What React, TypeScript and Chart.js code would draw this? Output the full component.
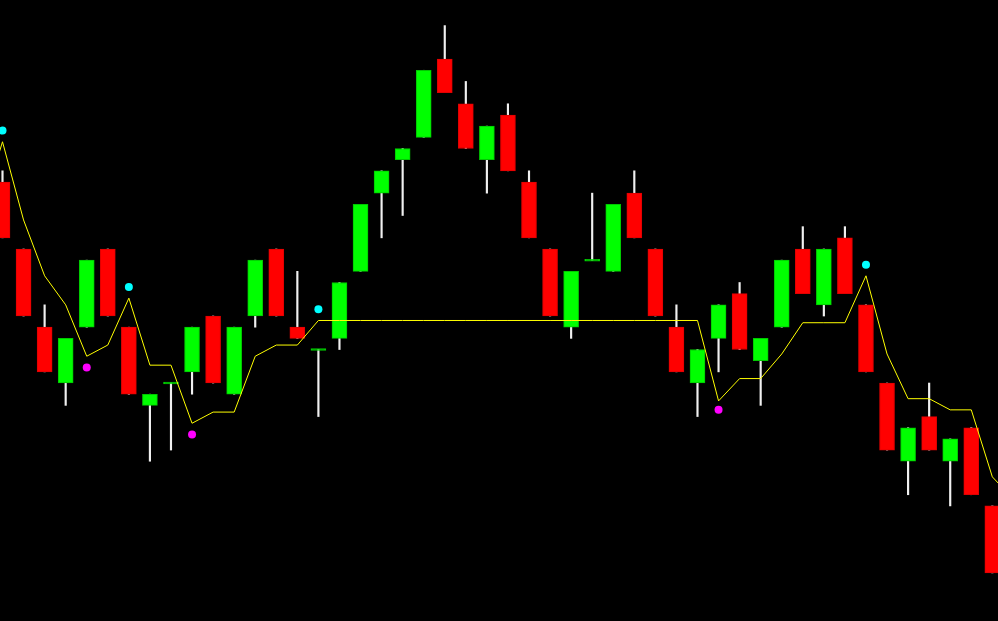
import React, { useEffect, useRef } from "react";
import { Chart, registerables } from "chart.js";

Chart.register(...registerables);

// Candle OHLC values (index 0..47, left to right)
const opens = [
  110.30, 110.00, 109.65, 109.40, 109.65, 110.00, 109.65, 109.30, 109.40, 109.45,
  109.70, 109.35, 109.70, 110.00, 109.65, 109.55, 109.60, 109.90, 110.25, 110.40,
  110.50, 110.85, 110.65, 110.40, 110.60, 110.30, 110.00, 109.65, 109.95, 109.90,
  110.25, 110.00, 109.65, 109.40, 109.60, 109.80, 109.50, 109.65, 110.00, 109.75,
  110.05, 109.75, 109.40, 109.05, 109.25, 109.05, 109.20, 108.85,
];
const highs = [
  110.35, 110.00, 109.75, 109.60, 109.95, 110.00, 109.65, 109.35, 109.40, 109.65,
  109.70, 109.65, 109.95, 110.00, 109.90, 109.55, 109.85, 110.20, 110.35, 110.45,
  110.80, 111.00, 110.75, 110.55, 110.65, 110.35, 110.00, 109.90, 110.25, 110.20,
  110.35, 110.00, 109.75, 109.55, 109.75, 109.85, 109.60, 109.95, 110.10, 110.00,
  110.10, 109.75, 109.40, 109.20, 109.40, 109.15, 109.20, 108.85,
];
const lows = [
  110.05, 109.70, 109.45, 109.30, 109.65, 109.70, 109.35, 109.05, 109.10, 109.35,
  109.40, 109.35, 109.65, 109.70, 109.60, 109.25, 109.55, 109.90, 110.05, 110.15,
  110.50, 110.70, 110.45, 110.25, 110.35, 110.05, 109.70, 109.60, 109.95, 109.90,
  110.05, 109.70, 109.45, 109.25, 109.45, 109.55, 109.30, 109.65, 109.80, 109.70,
  109.80, 109.45, 109.10, 108.90, 109.10, 108.85, 108.90, 108.55,
];
const closes = [
  110.05, 109.70, 109.45, 109.60, 109.95, 109.70, 109.35, 109.35, 109.40, 109.65,
  109.40, 109.65, 109.95, 109.70, 109.60, 109.55, 109.85, 110.20, 110.35, 110.45,
  110.80, 110.70, 110.45, 110.55, 110.35, 110.05, 109.70, 109.90, 109.95, 110.20,
  110.05, 109.70, 109.45, 109.55, 109.75, 109.55, 109.60, 109.95, 109.80, 110.00,
  109.80, 109.45, 109.10, 109.20, 109.10, 109.15, 108.90, 108.55,
];

// Trend (stop) line, starting one bar before the first visible candle
const trendStart = -1;
const trendLine = [
  110.17, 110.48, 110.13, 109.88, 109.75, 109.52, 109.57, 109.78, 109.48, 109.48,
  109.22, 109.27, 109.27, 109.52, 109.57, 109.57, 109.68, 109.68, 109.68, 109.68,
  109.68, 109.68, 109.68, 109.68, 109.68, 109.68, 109.68, 109.68, 109.68, 109.68,
  109.68, 109.68, 109.68, 109.68, 109.68, 109.32, 109.42, 109.42, 109.53, 109.67,
  109.67, 109.67, 109.88, 109.53, 109.33, 109.33, 109.28, 109.28, 108.98, 108.88,
];

// Signal dots
const upSignalIdx = [0, 6, 15, 41];
const upSignalVals = [110.53, 109.83, 109.73, 109.93];
const downSignalIdx = [4, 9, 34];
const downSignalVals = [109.47, 109.17, 109.28];

const X_MIN = -0.1187;
const X_MAX = 47.269;
const Y_MIN = 108.3348;
const Y_MAX = 111.1146;

export default function App() {
  const ref = useRef<HTMLCanvasElement | null>(null);

  useEffect(() => {
    document.body.style.margin = "0";
    document.body.style.background = "#000";
    const canvas = ref.current;
    if (!canvas) return;

    const isUp = opens.map((o, i) => closes[i] >= o);
    const bodies = opens.map((o, i) => {
      const c = closes[i];
      let lo = Math.min(o, c);
      let hi = Math.max(o, c);
      if (hi - lo < 0.001) {
        lo -= 0.004;
        hi += 0.004;
      }
      return { x: i, y: [lo, hi] };
    });
    const wicks = opens.map((_, i) => ({ x: i, y: [lows[i], highs[i]] }));

    const chart = new Chart(canvas, {
      type: "bar",
      data: {
        datasets: [
          {
            type: "scatter",
            label: "up",
            data: upSignalIdx.map((x, i) => ({ x, y: upSignalVals[i] })),
            pointRadius: 4,
            pointBackgroundColor: "#00FFFF",
            pointBorderWidth: 0,
            order: 0,
          } as any,
          {
            type: "scatter",
            label: "down",
            data: downSignalIdx.map((x, i) => ({ x, y: downSignalVals[i] })),
            pointRadius: 4,
            pointBackgroundColor: "#FF00FF",
            pointBorderWidth: 0,
            order: 0,
          } as any,
          {
            type: "line",
            label: "trend",
            data: trendLine.map((y, j) => ({ x: j + trendStart, y })),
            borderColor: "#FFFF00",
            borderWidth: 1,
            pointRadius: 0,
            tension: 0,
            fill: false,
            order: 1,
          } as any,
          {
            type: "bar",
            label: "bodies",
            data: bodies,
            backgroundColor: isUp.map((u) => (u ? "#00FF00" : "#FF0000")),
            borderColor: isUp.map((u) => (u ? "#00C800" : "#E00000")),
            borderWidth: 1,
            borderSkipped: false,
            barThickness: 15,
            grouped: false,
            order: 2,
          } as any,
          {
            type: "bar",
            label: "wicks",
            data: wicks,
            backgroundColor: "#F0F0F0",
            borderWidth: 0,
            barThickness: 1.5,
            grouped: false,
            order: 3,
          } as any,
        ],
      },
      options: {
        responsive: false,
        animation: false,
        devicePixelRatio: 1,
        events: [],
        layout: { padding: 0, autoPadding: false },
        plugins: { legend: { display: false }, tooltip: { enabled: false } },
        scales: {
          x: { type: "linear", min: X_MIN, max: X_MAX, display: false, offset: false },
          y: { type: "linear", min: Y_MIN, max: Y_MAX, display: false },
        },
      } as any,
    });
    return () => chart.destroy();
  }, []);

  return (
    <div style={{ position: "fixed", left: 0, top: 0, width: 998, height: 621, background: "#000" }}>
      <canvas ref={ref} width={998} height={621} style={{ display: "block" }} />
    </div>
  );
}
